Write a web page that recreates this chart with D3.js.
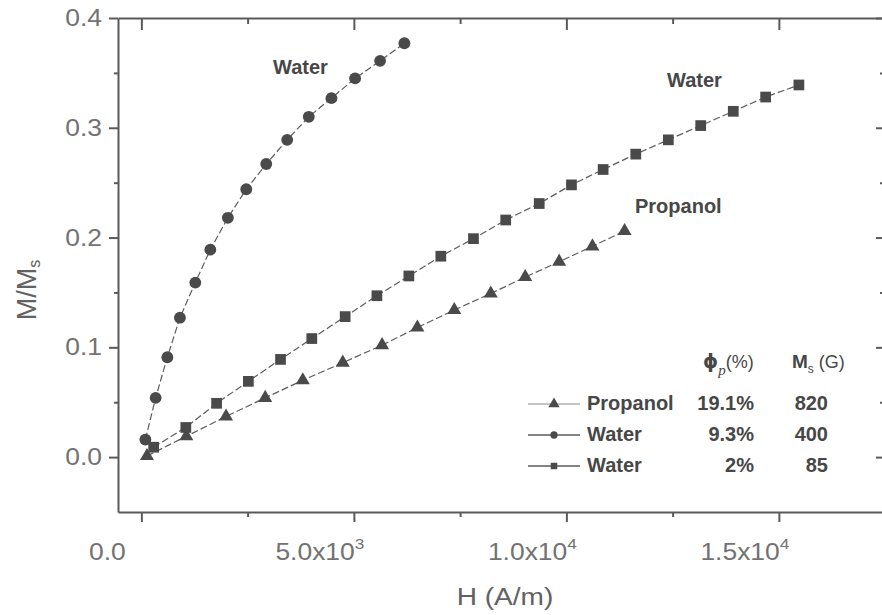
<!DOCTYPE html>
<html>
<head>
<meta charset="utf-8">
<script src="https://cdn.jsdelivr.net/npm/d3@7"></script>
<style>
  html, body { margin: 0; padding: 0; background: #fff; }
  svg { display: block; font-family: "Liberation Sans", Arial, sans-serif; }
</style>
</head>
<body>
<svg id="chart" width="882" height="615"></svg>
<script>
// Magnetization curves M/Ms vs applied field H
const hCircle = [94, 336, 611, 907, 1269, 1622, 2035, 2468, 2938, 3431, 3939, 4472, 5029, 5617, 6188];
const mCircle = [0.016, 0.054, 0.091, 0.127, 0.159, 0.189, 0.218, 0.244, 0.267, 0.289, 0.310, 0.327, 0.345, 0.361, 0.377];

const hSquare = [289, 1046, 1770, 2517, 3274, 4010, 4795, 5542, 6294, 7046, 7814, 8573, 9361, 10120, 10865, 11633, 12399, 13161, 13927, 14689, 15471];
const mSquare = [0.009, 0.027, 0.049, 0.069, 0.089, 0.108, 0.128, 0.147, 0.165, 0.183, 0.199, 0.216, 0.231, 0.248, 0.262, 0.276, 0.289, 0.302, 0.315, 0.328, 0.339];

const hTriangle = [132, 1058, 1993, 2914, 3798, 4738, 5664, 6494, 7363, 8221, 9032, 9831, 10613, 11370];
const mTriangle = [0.001, 0.019, 0.037, 0.054, 0.070, 0.086, 0.102, 0.118, 0.134, 0.149, 0.164, 0.178, 0.192, 0.206];

const xMajorTicks = [0, 5000, 10000, 15000];
const xMinorTicks = [2500, 7500, 12500, 17500];
const xTickMantissa = ["0.0", "5.0x10", "1.0x10", "1.5x10"];
const xTickExponent = ["", "3", "4", "4"];
const yMajorTicks = [0, 0.1, 0.2, 0.3, 0.4];
const yMinorTicks = [0.05, 0.15, 0.25, 0.35];

const legendNames = ["Propanol", "Water", "Water"];
const legendPhi = ["19.1%", "9.3%", "2%"];
const legendMs = ["820", "400", "85"];

const svg = d3.select("#chart");
const plotLeft = 118, plotRight = 884, plotTop = 18, plotBottom = 512;

const x = d3.scaleLinear().domain([-550, 17450]).range([plotLeft, plotRight - 1]);
const y = d3.scaleLinear().domain([-0.05, 0.4]).range([plotBottom, plotTop]);

const axisColor = "#5a5a5a";
const markColor = "#4a4a4a";

function styleAxis(g) {
  g.selectAll(".domain").attr("stroke", axisColor).attr("stroke-width", 2);
  g.selectAll(".tick line").attr("stroke", axisColor).attr("stroke-width", 2);
  g.selectAll(".tick text").remove();
}

// bottom axis (ticks outward)
svg.append("g").attr("transform", `translate(0,${plotBottom})`)
  .call(d3.axisBottom(x).tickValues(xMajorTicks).tickSize(10).tickSizeOuter(0)).call(styleAxis);
svg.append("g").attr("transform", `translate(0,${plotBottom})`)
  .call(d3.axisBottom(x).tickValues(xMinorTicks).tickSize(5).tickSizeOuter(0))
  .call(styleAxis).call(g => g.select(".domain").remove());

// top axis (ticks inward)
svg.append("g").attr("transform", `translate(0,${plotTop})`)
  .call(d3.axisBottom(x).tickValues(xMajorTicks).tickSize(12).tickSizeOuter(0)).call(styleAxis);
svg.append("g").attr("transform", `translate(0,${plotTop})`)
  .call(d3.axisBottom(x).tickValues(xMinorTicks).tickSize(6).tickSizeOuter(0))
  .call(styleAxis).call(g => g.select(".domain").remove());

// left axis (ticks outward)
svg.append("g").attr("transform", `translate(${plotLeft},0)`)
  .call(d3.axisLeft(y).tickValues(yMajorTicks).tickSize(9).tickSizeOuter(0)).call(styleAxis);
svg.append("g").attr("transform", `translate(${plotLeft},0)`)
  .call(d3.axisLeft(y).tickValues(yMinorTicks).tickSize(4).tickSizeOuter(0))
  .call(styleAxis).call(g => g.select(".domain").remove());

// right axis (ticks inward)
svg.append("g").attr("transform", `translate(${plotRight},0)`)
  .call(d3.axisLeft(y).tickValues(yMajorTicks).tickSize(8).tickSizeOuter(0)).call(styleAxis);
svg.append("g").attr("transform", `translate(${plotRight},0)`)
  .call(d3.axisLeft(y).tickValues(yMinorTicks).tickSize(4).tickSizeOuter(0))
  .call(styleAxis).call(g => g.select(".domain").remove());

// tick labels (slightly widened glyphs)
const tickFill = "#727272";
const xl = svg.append("g").attr("fill", tickFill).attr("font-size", 23).attr("text-anchor", "middle");
xMajorTicks.forEach((v, i) => {
  const t = xl.append("text")
    .attr("transform", `translate(${x(v) - 34},560) scale(1.15,1)`);
  t.append("tspan").text(xTickMantissa[i]);
  if (xTickExponent[i]) t.append("tspan").attr("dy", -11).attr("font-size", 15).text(xTickExponent[i]);
});
const yl = svg.append("g").attr("fill", tickFill).attr("font-size", 23).attr("text-anchor", "end");
yMajorTicks.forEach(v => {
  yl.append("text").attr("transform", `translate(102,${y(v) + 8}) scale(1.15,1)`)
    .text(d3.format(".1f")(v));
});

// axis titles
svg.append("text").attr("transform", "translate(505,605) scale(1.17,1)").attr("text-anchor", "middle")
  .attr("font-size", 24).attr("fill", "#626262").text("H (A/m)");
const yt = svg.append("text").attr("transform", "translate(36,290) rotate(-90)")
  .attr("text-anchor", "middle").attr("font-size", 27).attr("fill", "#626262");
yt.append("tspan").text("M/M");
yt.append("tspan").attr("font-size", 16).attr("dy", 4).text("s");

// series
const series = [
  { h: hTriangle, m: mTriangle, symbol: d3.symbolTriangle, size: 85 },
  { h: hCircle, m: mCircle, symbol: d3.symbolCircle, size: 110 },
  { h: hSquare, m: mSquare, symbol: d3.symbolSquare, size: 115 }
];
const line = d3.line().x(d => x(d[0])).y(d => y(d[1]));
series.forEach(s => {
  const pts = s.h.map((h, i) => [h, s.m[i]]);
  svg.append("path").datum(pts).attr("d", line).attr("fill", "none")
    .attr("stroke", "#5c5c5c").attr("stroke-width", 1.2).attr("stroke-dasharray", "7,3");
  svg.append("g").selectAll("path").data(pts).join("path")
    .attr("transform", d => `translate(${x(d[0])},${y(d[1])})`)
    .attr("d", d3.symbol().type(s.symbol).size(s.size))
    .attr("fill", markColor);
});

// in-plot annotations
const ann = svg.append("g").attr("font-size", 20).attr("font-weight", "bold").attr("fill", "#474747");
ann.append("text").attr("x", 273).attr("y", 74).text("Water");
ann.append("text").attr("x", 667).attr("y", 87).text("Water");
ann.append("text").attr("x", 635).attr("y", 213).text("Propanol");

// legend
const lg = svg.append("g").attr("fill", "#474747").attr("font-size", 20).attr("font-weight", "bold");
const hp = lg.append("text").attr("x", 703).attr("y", 368);
hp.append("tspan").attr("font-family", "DejaVu Sans").attr("font-size", 19).text("ϕ");
hp.append("tspan").attr("font-size", 15).attr("font-weight", "normal").attr("font-family", "Liberation Serif").attr("font-style", "italic").attr("dy", 7).text("p");
hp.append("tspan").attr("font-weight", "normal").attr("font-size", 18).attr("dy", -7).text("(%)");
const hm = lg.append("text").attr("x", 792).attr("y", 368);
hm.append("tspan").attr("font-size", 19).text("M");
hm.append("tspan").attr("font-size", 12).attr("font-weight", "normal").attr("dy", 5).text("s");
hm.append("tspan").attr("font-weight", "normal").attr("font-size", 18).attr("dy", -5).text(" (G)");

legendNames.forEach((name, i) => {
  const by = 410 + i * 31;
  const cy = by - 6;
  lg.append("line").attr("x1", 528).attr("x2", 580).attr("y1", cy).attr("y2", cy)
    .attr("stroke", i === 0 ? "#b0b0b0" : "#5a5a5a").attr("stroke-width", 1.5);
  lg.append("path").attr("transform", `translate(554,${cy})`)
    .attr("d", d3.symbol().type(series[i].symbol).size(i === 0 ? 55 : 42))
    .attr("fill", markColor);
  lg.append("text").attr("x", 587).attr("y", by).text(name);
  lg.append("text").attr("x", 754).attr("y", by).attr("text-anchor", "end").text(legendPhi[i]);
  lg.append("text").attr("x", 828).attr("y", by).attr("text-anchor", "end").text(legendMs[i]);
});
</script>
</body>
</html>
